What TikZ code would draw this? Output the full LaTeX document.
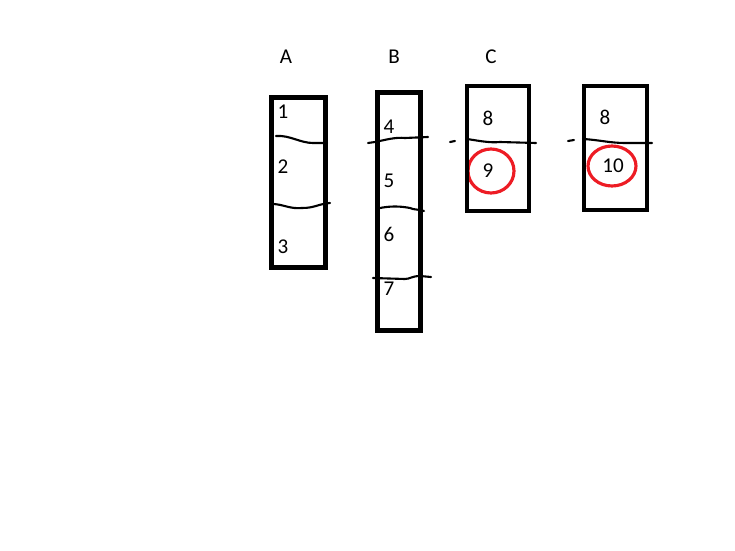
\documentclass[tikz,border=0pt]{standalone}
\usepackage{fontspec}
\setmainfont{Carlito}
\usepackage{tikz}
\usetikzlibrary{shapes.geometric}

\tikzset{
	frame/.style={line width=2.4pt},
	cut/.style={line width=1.2pt, line cap=round},
	ring/.style={draw=ringred, line width=1.8pt, ellipse, inner sep=0pt},
	lbl/.style={font=\fontsize{12}{14}\selectfont, inner sep=0pt}
}
\definecolor{ringred}{RGB}{237,28,36}

\begin{document}
\begin{tikzpicture}[x=0.02cm,y=-0.02cm]
	\useasboundingbox (0,0) rectangle (735,551);
	%
	\node[lbl] (A) at (286,57) {A};
	\node[lbl] (B) at (394,57) {B};
	\node[lbl] (C) at (491,57) {C};
	%
	\node[lbl] (n1) at (283,112) {1};
	\node[lbl] (n2) at (283,167) {2};
	\node[lbl] (n3) at (283,247) {3};
	\node[lbl] (n4) at (389,127) {4};
	\node[lbl] (n5) at (389,181) {5};
	\node[lbl] (n6) at (389,234) {6};
	\node[lbl] (n7) at (389,289) {7};
	\node[lbl] (n8c) at (488,118) {8};
	\node[lbl] (n8d) at (605,117) {8};
	%
	\node[lbl] (n9) at (488,171) {9};
	\node[lbl] (n10) at (613,166) {10};
	\node[ring, minimum width=0.92cm, minimum height=0.88cm] (r9) at (491,171) {};
	\node[ring, minimum width=0.96cm, minimum height=0.80cm] (r10) at (612,166) {};
	
	%boxes
	\draw[frame] (271.5,97.5) rectangle (325.5,267.5);		%A
	\draw[frame] (377.5,92.5) rectangle (420.5,330.5);		%B
	\draw[frame] (467,86) rectangle (529,211);				%C
	\draw[frame] (584,86) rectangle (647,210);				%D
	
	%cuts in A
	\draw[cut] (276,136) .. controls (290,135) and (300,143) .. (313,143) -- (327,143);	%1--2
	\draw[cut] (274,204) .. controls (285,205) and (290,209) .. (302,208)
		.. controls (315,208) and (318,204) .. (330,203);								%2--3
	
	%cuts in B
	\draw[cut] (368,143) -- (375,142) .. controls (385,140) and (395,137) .. (405,138) -- (428,137);	%4--5
	\draw[cut] (380,208) .. controls (390,206) and (400,206) .. (410,208)
		.. controls (414,210) and (418,209) .. (424,211);								%5--6
	\draw[cut] (373,278) -- (405,279) .. controls (410,279) and (412,276) .. (420,276) -- (431,277);	%6--7
	
	%cuts in C and D
	\draw[cut] (450,142) -- (455,141);
	\draw[cut] (467,139) .. controls (480,141) and (490,143) .. (500,142) -- (536,143);	%8--9
	\draw[cut] (568,141) -- (574,140);
	\draw[cut] (583,139) .. controls (600,140) and (610,143) .. (625,143) -- (652,143);	%8--10
\end{tikzpicture}
\end{document}
